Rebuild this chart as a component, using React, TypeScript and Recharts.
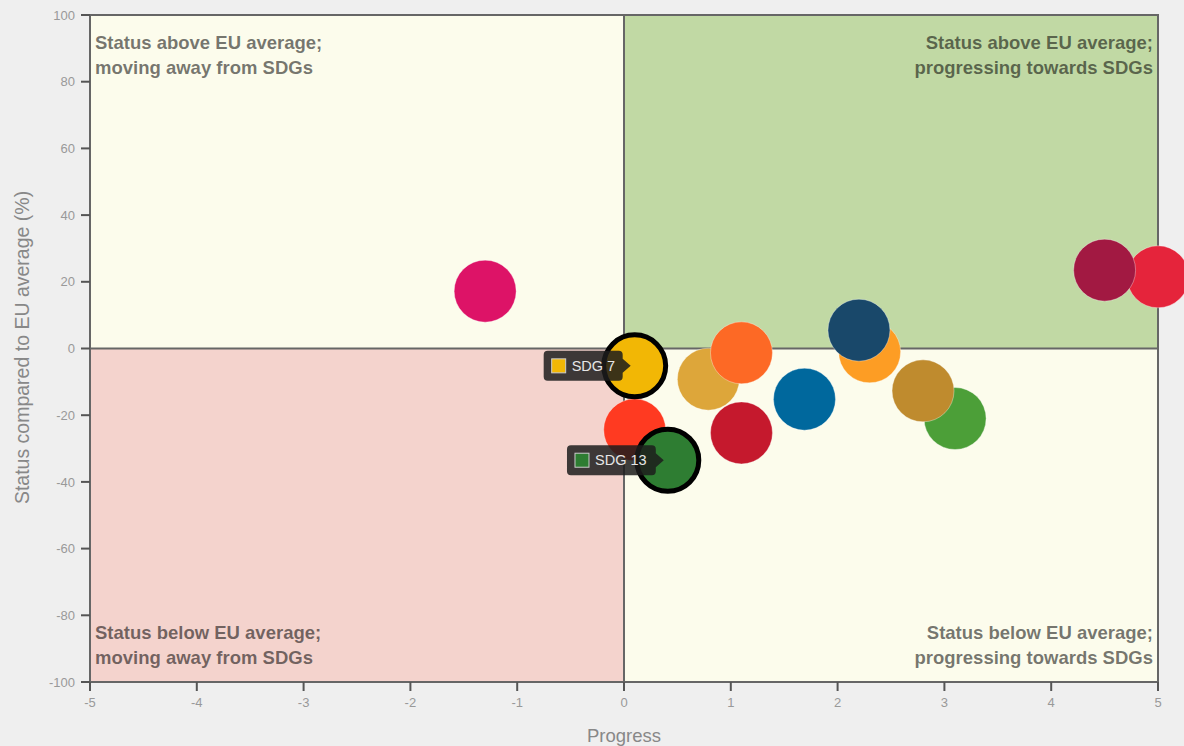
import React from 'react';
import {
  ScatterChart,
  Scatter,
  XAxis,
  YAxis,
  CartesianGrid,
  ReferenceArea,
  ReferenceLine,
} from 'recharts';

// ---- data ----
const sdgNames = ['SDG 1', 'SDG 2', 'SDG 3', 'SDG 4', 'SDG 5', 'SDG 7', 'SDG 8', 'SDG 9', 'SDG 10', 'SDG 11', 'SDG 12', 'SDG 13', 'SDG 16', 'SDG 17'];
const progressValues = [5.0, 0.79, 3.1, 1.1, 0.1, 0.1, 4.5, 1.1, -1.3, 2.3, 2.8, 0.41, 1.69, 2.2];
const statusValues = [21.5, -9.2, -21.0, -25.3, -24.4, -5.2, 23.5, -1.3, 17.2, -1.0, -12.7, -33.5, -15.2, 5.5];
const sdgColors = ['#E5243B', '#DDA63A', '#4C9F38', '#C5192D', '#FF3A21', '#F2B705', '#A21942', '#FD6925', '#DD1367', '#FD9D24', '#BF8B2E', '#2E7D32', '#00689D', '#19486A'];
const highlighted = ['SDG 7', 'SDG 13'];

const xTicks = [-5, -4, -3, -2, -1, 0, 1, 2, 3, 4, 5];
const yTicks = [-100, -80, -60, -40, -20, 0, 20, 40, 60, 80, 100];

const quadrantLabels = {
  topLeft: ['Status above EU average;', 'moving away from SDGs'],
  topRight: ['Status above EU average;', 'progressing towards SDGs'],
  bottomLeft: ['Status below EU average;', 'moving away from SDGs'],
  bottomRight: ['Status below EU average;', 'progressing towards SDGs'],
};

const xTitle = 'Progress';
const yTitle = 'Status compared to EU average (%)';

const points = sdgNames.map((name, i) => ({
  name,
  x: progressValues[i],
  y: statusValues[i],
  color: sdgColors[i],
  highlight: highlighted.includes(name),
}));
const highlightPoints = points.filter((p) => p.highlight);

const FONT = '"Liberation Sans", Arial, Helvetica, sans-serif';
const R = 31;

const Bubble = (props: any) => {
  const { cx, cy, payload } = props;
  if (cx == null || cy == null) return null;
  return (
    <circle
      cx={cx}
      cy={cy}
      r={R}
      fill={payload.color}
      stroke={payload.highlight ? '#000' : '#ffffff'}
      strokeOpacity={payload.highlight ? 1 : 0.35}
      strokeWidth={payload.highlight ? 5 : 1}
    />
  );
};

const Tip = (props: any) => {
  const { cx, cy, payload } = props;
  if (cx == null || cy == null) return null;
  const label = payload.name;
  const w = 30 + label.length * 9.8;
  const h = 30;
  const right = cx - 12;
  const left = right - w;
  const top = cy - h / 2;
  const bot = cy + h / 2;
  const r = 4;
  const d = `M${left + r},${top} L${right - r},${top} Q${right},${top} ${right},${top + r} L${right},${cy - 7} L${cx - 4},${cy} L${right},${cy + 7} L${right},${bot - r} Q${right},${bot} ${right - r},${bot} L${left + r},${bot} Q${left},${bot} ${left},${bot - r} L${left},${top + r} Q${left},${top} ${left + r},${top} Z`;
  return (
    <g>
      <path d={d} fill="rgb(28,28,28)" fillOpacity={0.85} />
      <rect x={left + 8} y={cy - 7} width={14} height={14} fill={payload.color} stroke="#cccccc" strokeWidth={1} />
      <text x={left + 28} y={cy + 5} fontSize={14.5} fill="#e6e6e6" fontFamily={FONT}>
        {label}
      </text>
    </g>
  );
};

const QuadLabel = (props: any) => {
  const { viewBox, lines, align, vpos } = props;
  if (!viewBox) return null;
  const { x, y, width, height } = viewBox;
  const tx = align === 'left' ? x + 5 : x + width - 5;
  const anchor = align === 'left' ? 'start' : 'end';
  const y0 = vpos === 'top' ? y + 34 : y + height - 43;
  return (
    <text
      textAnchor={anchor}
      fontSize={18.5}
      fontWeight="bold"
      fontFamily={FONT}
      fill="#000"
      fillOpacity={0.55}
    >
      {lines.map((l: string, i: number) => (
        <tspan key={i} x={tx} y={y0 + i * 25}>
          {l}
        </tspan>
      ))}
    </text>
  );
};

const YTitle = (props: any) => {
  const { viewBox } = props;
  const cy = viewBox ? viewBox.y + viewBox.height / 2 - 1 : 347;
  return (
    <text
      x={0}
      y={0}
      transform={`translate(29, ${cy}) rotate(-90)`}
      textAnchor="middle"
      fontSize={19.5}
      fill="#888"
      fontFamily={FONT}
    >
      {yTitle}
    </text>
  );
};

const XTitle = (props: any) => {
  const { viewBox } = props;
  const cx = viewBox ? viewBox.x + viewBox.width / 2 : 624;
  return (
    <text x={cx} y={742} textAnchor="middle" fontSize={18.5} fill="#888" fontFamily={FONT}>
      {xTitle}
    </text>
  );
};

export default function App() {
  return (
    <div
      style={{
        position: 'absolute',
        left: 0,
        top: 0,
        width: 1184,
        height: 746,
        background: '#efefef',
      }}
    >
      <ScatterChart
        width={1184}
        height={746}
        margin={{ top: 15, right: 26, bottom: 0, left: 0 }}
        style={{ overflow: 'visible' }}
      >
        <ReferenceArea x1={-5} x2={0} y1={0} y2={100} fill="#fcfcec" fillOpacity={1} stroke="none"
          label={<QuadLabel lines={quadrantLabels.topLeft} align="left" vpos="top" />} />
        <ReferenceArea x1={0} x2={5} y1={0} y2={100} fill="#c1d9a4" fillOpacity={1} stroke="none"
          label={<QuadLabel lines={quadrantLabels.topRight} align="right" vpos="top" />} />
        <ReferenceArea x1={-5} x2={0} y1={-100} y2={0} fill="#f4d3cd" fillOpacity={1} stroke="none"
          label={<QuadLabel lines={quadrantLabels.bottomLeft} align="left" vpos="bottom" />} />
        <ReferenceArea x1={0} x2={5} y1={-100} y2={0} fill="#fcfcec" fillOpacity={1} stroke="none"
          label={<QuadLabel lines={quadrantLabels.bottomRight} align="right" vpos="bottom" />} />
        <CartesianGrid stroke="#000" strokeOpacity={0.07} horizontalValues={yTicks} verticalValues={xTicks} />
        <XAxis
          type="number"
          dataKey="x"
          domain={[-5, 5]}
          ticks={xTicks}
          height={64}
          tickSize={9}
          tickMargin={7}
          axisLine={{ stroke: '#666', strokeWidth: 2 }}
          tickLine={{ stroke: '#555', strokeWidth: 2 }}
          tick={{ fill: '#999', fontSize: 13, fontFamily: FONT }}
          label={<XTitle />}
        />
        <YAxis
          type="number"
          dataKey="y"
          domain={[-100, 100]}
          ticks={yTicks}
          width={90}
          tickSize={9}
          tickMargin={6}
          axisLine={{ stroke: '#666', strokeWidth: 2 }}
          tickLine={{ stroke: '#555', strokeWidth: 2 }}
          tick={{ fill: '#999', fontSize: 13, fontFamily: FONT }}
          label={<YTitle />}
        />
        <ReferenceLine x={0} stroke="#666" strokeWidth={2} />
        <ReferenceLine y={0} stroke="#666" strokeWidth={2} />
        <ReferenceArea x1={-5} x2={5} y1={-100} y2={100} fill="none" stroke="#666" strokeWidth={2} />
        <Scatter data={points} shape={<Bubble />} isAnimationActive={false} />
        <Scatter data={highlightPoints} shape={<Tip />} isAnimationActive={false} />
      </ScatterChart>
    </div>
  );
}
